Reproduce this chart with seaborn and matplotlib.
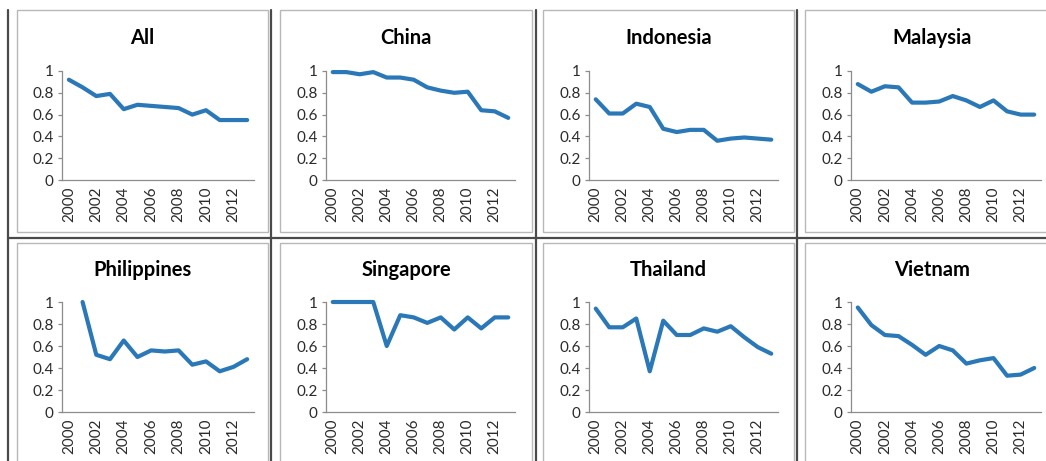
import matplotlib
matplotlib.use("Agg")
import matplotlib.pyplot as plt
from matplotlib.lines import Line2D
from matplotlib.patches import Rectangle
from matplotlib.ticker import FixedLocator
import seaborn as sns
import numpy as np
import pandas as pd

years = list(range(2000, 2014))
countries = ["All", "China", "Indonesia", "Malaysia",
             "Philippines", "Singapore", "Thailand", "Vietnam"]

all_vals = [0.92, 0.85, 0.77, 0.79, 0.65, 0.69, 0.68, 0.67, 0.66, 0.60, 0.64, 0.55, 0.55, 0.55]
china = [0.99, 0.99, 0.97, 0.99, 0.94, 0.94, 0.92, 0.85, 0.82, 0.80, 0.81, 0.64, 0.63, 0.57]
indonesia = [0.74, 0.61, 0.61, 0.70, 0.67, 0.47, 0.44, 0.46, 0.46, 0.36, 0.38, 0.39, 0.38, 0.37]
malaysia = [0.88, 0.81, 0.86, 0.85, 0.71, 0.71, 0.72, 0.77, 0.73, 0.67, 0.73, 0.63, 0.60, 0.60]
philippines = [np.nan, 1.00, 0.52, 0.48, 0.65, 0.50, 0.56, 0.55, 0.56, 0.43, 0.46, 0.37, 0.41, 0.48]
singapore = [1.00, 1.00, 1.00, 1.00, 0.60, 0.88, 0.86, 0.81, 0.86, 0.75, 0.86, 0.76, 0.86, 0.86]
thailand = [0.94, 0.77, 0.77, 0.85, 0.37, 0.83, 0.70, 0.70, 0.76, 0.73, 0.78, 0.68, 0.59, 0.53]
vietnam = [0.95, 0.79, 0.70, 0.69, 0.61, 0.52, 0.60, 0.56, 0.44, 0.47, 0.49, 0.33, 0.34, 0.40]

series = [all_vals, china, indonesia, malaysia, philippines, singapore, thailand, vietnam]

yticks = [0, 0.2, 0.4, 0.6, 0.8, 1]
ytick_labels = ["0", "0.2", "0.4", "0.6", "0.8", "1"]
xtick_years = [2000, 2002, 2004, 2006, 2008, 2010, 2012]

sns.set_style("white")
plt.rcParams['font.family'] = ['Lato', 'DejaVu Sans']

W, H = 1046, 461
fig = plt.figure(figsize=(W / 100, H / 100), dpi=100)


def fx(x):
    return x / W


def fy(y):
    return (H - y) / H


line_color = "#2a78b8"
axis_color = "#8c8c8c"
text_color = "#2b2b2b"

# layout in pixels
ax_left = [62, 326, 589, 851]
ax_right = [254, 515, 778, 1041]
ax_top = [71, 302]
ax_bottom = [180, 412]
frame_x = [(17, 268), (280, 532), (543, 794), (805, 1060)]
frame_y = [(10, 232), (243, 475)]
title_y = [38, 270]

# table grid lines and panel frames
for x in [8, 271, 536, 797]:
    fig.add_artist(Line2D([fx(x), fx(x)], [fy(10), fy(461)], color="#4a4a4a", lw=1.6))
fig.add_artist(Line2D([fx(8), fx(1046)], [fy(238), fy(238)], color="#4a4a4a", lw=1.6))
for r in range(2):
    for c in range(4):
        x0, x1 = frame_x[c]
        y0, y1 = frame_y[r]
        fig.add_artist(Rectangle((fx(x0), fy(y1)), fx(x1 - x0), (y1 - y0) / H,
                                 fill=False, edgecolor="#b8b8b8", lw=1.0))

for i, name in enumerate(countries):
    r, c = divmod(i, 4)
    ax = fig.add_axes([fx(ax_left[c]), fy(ax_bottom[r]),
                       fx(ax_right[c] - ax_left[c]), (ax_bottom[r] - ax_top[r]) / H])
    df = pd.DataFrame({"year": years, "value": series[i]})
    sns.lineplot(data=df, x="year", y="value", ax=ax, color=line_color,
                 linewidth=3.0, clip_on=False, solid_joinstyle="round")
    ax.set_xlim(1999.5, 2013.5)
    ax.set_ylim(0, 1)
    ax.set_xlabel("")
    ax.set_ylabel("")
    ax.set_xticks(xtick_years)
    ax.set_xticklabels([str(y) for y in xtick_years], rotation=90, fontsize=11,
                       color=text_color)
    ax.xaxis.set_minor_locator(FixedLocator(np.arange(1999.5, 2014, 1.0)))
    ax.tick_params(axis="x", which="major", length=0, pad=5)
    ax.tick_params(axis="x", which="minor", length=4, width=0.9, color=axis_color,
                   direction="out")
    ax.set_yticks(yticks)
    ax.set_yticklabels(ytick_labels, fontsize=11, color=text_color)
    ax.tick_params(axis="y", length=3, width=0.9, color=axis_color, pad=3, left=True)
    for s in ["top", "right"]:
        ax.spines[s].set_visible(False)
    for s in ["left", "bottom"]:
        ax.spines[s].set_color(axis_color)
        ax.spines[s].set_linewidth(0.9)
    ax.patch.set_alpha(0)
    x0, x1 = frame_x[c]
    fig.text(fx((x0 + x1) / 2), fy(title_y[r]), name, ha="center", va="center",
             fontsize=14.5, fontweight="bold", color="black")

fig.savefig("out.png", dpi=100)
